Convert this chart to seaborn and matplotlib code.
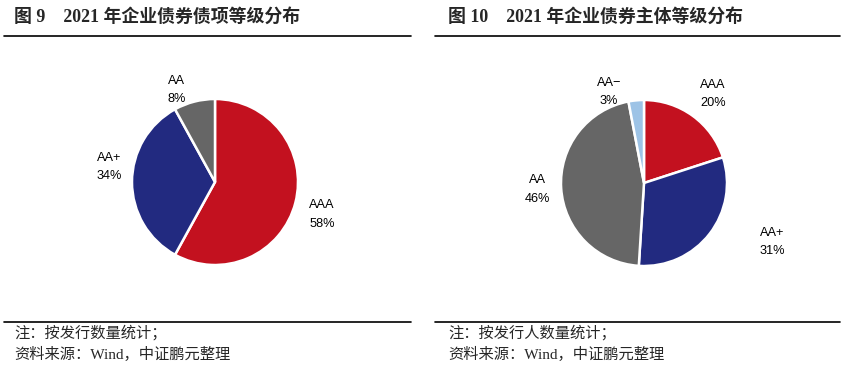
import matplotlib
matplotlib.use('Agg')
import matplotlib.pyplot as plt
from matplotlib.lines import Line2D
import seaborn as sns

# data
left_labels = ['AAA', 'AA+', 'AA']
left_values = [58, 34, 8]
right_labels = ['AAA', 'AA+', 'AA', 'AA-']
right_values = [20, 31, 46, 3]

left_title = '图 9    2021 年企业债券债项等级分布'
right_title = '图 10    2021 年企业债券主体等级分布'
left_note = '注：按发行数量统计；'
right_note = '注：按发行人数量统计；'
source = '资料来源：Wind，中证鹏元整理'

# label placement, in pie-radius units (layout only)
left_label_xy = [(1.29, -0.39), (-1.27, 0.18), (-0.46, 1.11)]
right_label_xy = [(0.83, 1.07), (1.55, -0.71), (-1.28, -0.08), (-0.42, 1.10)]

sns.set_theme(style='white')
plt.rcParams['font.family'] = ['Liberation Sans', 'Noto Sans CJK SC', 'DejaVu Sans']

colors = {'AAA': '#C3111F', 'AA+': '#222A80', 'AA': '#666666', 'AA-': '#9DC3E6'}

W, H = 844, 367
fig = plt.figure(figsize=(W / 100, H / 100), dpi=100)
R = 83  # pie radius in px


def pie_axes(cx, cy):
    size = 3 * R
    return fig.add_axes([(cx - size / 2) / W, (H - cy - size / 2) / H, size / W, size / H])


def draw_pie(ax, labels, values, label_xy):
    ax.pie(values, colors=[colors[l] for l in labels], startangle=90,
           counterclock=False, radius=1,
           wedgeprops=dict(edgecolor='white', linewidth=1.8))
    # pie resets the limits, so set them afterwards
    ax.set_xlim(-1.5, 1.5)
    ax.set_ylim(-1.5, 1.5)
    ax.set_aspect('equal')
    ax.axis('off')
    for lab, v, (x, y) in zip(labels, values, label_xy):
        txt = lab.replace('AA-', 'AA−') + '\n' + f'{v}%'
        ax.text(x, y, txt, ha='center', va='center', fontsize=9.2,
                linespacing=1.7, color='black')


ax1 = pie_axes(215, 182)
draw_pie(ax1, left_labels, left_values, left_label_xy)
ax2 = pie_axes(644, 183)
draw_pie(ax2, right_labels, right_values, right_label_xy)

text_font = ['Liberation Serif', 'Noto Sans CJK SC']

for x0, x1, tx, ttl, note in [(4, 411, 14, left_title, left_note),
                              (435, 840, 448, right_title, right_note)]:
    fig.text(tx / W, 1 - 17 / H, ttl, ha='left', va='center', fontsize=12.9,
             fontweight='bold', family=text_font)
    fig.add_artist(Line2D([x0 / W, x1 / W], [1 - 36 / H] * 2, color='black', lw=1.2))
    fig.add_artist(Line2D([x0 / W, x1 / W], [1 - 322 / H] * 2, color='black', lw=1.2))
    fig.text(tx / W, 1 - 333 / H, note, ha='left', va='center', fontsize=11,
             family=text_font)
    fig.text(tx / W, 1 - 354 / H, source, ha='left', va='center', fontsize=11,
             family=text_font)

fig.savefig('out.png', dpi=100, facecolor='white')
